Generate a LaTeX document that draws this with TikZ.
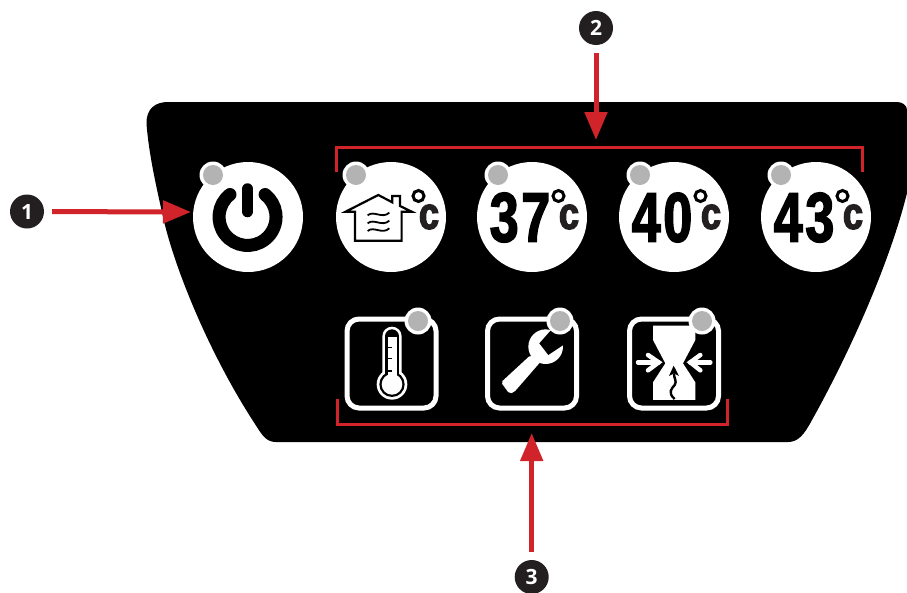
\documentclass[tikz,border=0pt]{standalone}
\usepackage{fontspec}
\usetikzlibrary{arrows.meta}
\setmainfont{Open Sans}
\newfontfamily\digitfont[FakeStretch=0.74,FakeBold=2.2,LetterSpace=4]{Liberation Sans Bold}
\newfontfamily\unitfont[FakeStretch=0.8,FakeBold=3]{Liberation Sans Bold}
\definecolor{markred}{HTML}{D1232A}
\definecolor{ledgrey}{HTML}{B3B3B3}
\definecolor{badgeink}{HTML}{231F20}
\tikzset{
  bracketline/.style={draw=markred,line width=3pt,line cap=butt,line join=miter},
  callout/.style={draw=markred,line width=5pt,shorten <=8pt,-{Triangle[length=28pt,width=22pt]}},
  badge/.style={circle,fill=badgeink,text=white,minimum size=34pt,inner sep=0pt,font=\fontsize{21}{21}\selectfont\bfseries},
  tempbutton/.style={circle,fill=white,minimum size=110pt,inner sep=0pt,outer sep=0pt},
  iconbox/.style={draw=white,line width=5pt,rounded corners=12pt,minimum size=89pt,inner sep=0pt,outer sep=0pt},
  ledring/.style={circle,fill=white,minimum size=27pt,inner sep=0pt},
  leddot/.style={circle,fill=ledgrey,minimum size=20pt,inner sep=0pt},
  digitstext/.style={inner sep=0pt,font=\digitfont\fontsize{70}{70}\selectfont,text=black},
  unittext/.style={inner sep=0pt,font=\unitfont\fontsize{45}{45}\selectfont,text=badgeink},
}
\newcommand{\ledat}[3]{\node[ledring] (#1ring) at (#2,#3) {};\node[leddot] (#1dot) at (#2,#3) {};}
\newcommand{\degreeunit}[3]{%
  \node[unittext] (#1c) at (#2+37,#3) {c};
  \draw[black,line width=3pt] (#2+26.5,#3-21) circle[radius=5.5];}
\newcommand{\tempbtn}[3]{%
  \node[tempbutton] (#1) at (#2,217) {};
  \node[digitstext] (#1num) at (#2-12,217.5) {#3};
  \degreeunit{#1}{#2}{217}}
\begin{document}
\begin{tikzpicture}[x=1pt,y=-1pt]
\useasboundingbox (0,0) rectangle (907,592);
% panel
\fill[black] (146.5,124) .. controls (146,108) and (156,102) .. (168,102)
  -- (897,102) .. controls (902,102) and (907,105) .. (907,110)
  -- (907,193)
  .. controls (890,262) and (850,352) .. (812,420)
  .. controls (804,435) and (798,442) .. (788,442)
  -- (276,442) .. controls (266,442) and (262,435) .. (255,424)
  .. controls (210,355) and (175,270) .. (163,217)
  .. controls (156,185) and (149,155) .. (146.5,124) -- cycle;
% brackets
\draw[bracketline] (336.5,172) -- (336.5,147) -- (862,147) -- (862,172);
\draw[bracketline] (337,399) -- (337,424) -- (727,424) -- (727,399);
% round buttons
\node[tempbutton] (power) at (248,217) {};
\draw[black,line width=13pt,line cap=round] (247.5,217) ++(-17.5,-22.5) arc[start angle=232,delta angle=-284,radius=28.5];
\draw[black,line width=11.5pt,line cap=round] (247.5,189) -- (247.5,211.5);
\ledat{ledpower}{213}{175}
\node[tempbutton] (ambient) at (391,217) {};
\begin{scope}[shift={(180,140)},x=0.3333pt,y=-0.3333pt]
  \draw[black,line width=2.2pt,line join=miter] (497,215) -- (595,165) -- (637,187) -- (637,168) -- (660,168) -- (660,198) -- (695,215) -- (665,215) -- (665,302) -- (525,302) -- (525,215) -- cycle;
  \foreach \wy in {226,250,273}
    \draw[black,line width=1.8pt] (563,\wy) .. controls (582,\wy-16) and (606,\wy+12) .. (628,\wy-8);
\end{scope}
\degreeunit{ambient}{392}{217}
\ledat{ledambient}{356}{175}
\tempbtn{tA}{532}{37}
\ledat{ledA}{498}{175}
\tempbtn{tB}{674}{40}
\ledat{ledB}{640}{175}
\tempbtn{tC}{816}{43}
\ledat{ledC}{781}{175}
% square icons
\node[iconbox] (thermo) at (391.5,363.5) {};
\node[iconbox] (wrench) at (532,363.5) {};
\node[iconbox] (press) at (674,363.5) {};
% thermometer
\begin{scope}[shift={(340,305)},x=0.3333pt,y=-0.3333pt]
  \fill[white] (127,240) -- (127,94) arc[start angle=180,delta angle=180,radius=29] -- (185,240) -- cycle;
  \fill[white] (156,238) circle[radius=46];
  \fill[black] (135,240) -- (135,94) arc[start angle=180,delta angle=180,radius=21] -- (177,240) -- cycle;
  \fill[black] (156,238) circle[radius=38];
  \fill[white] (143,240) -- (143,96) -- (170,96) -- (170,240) -- cycle;
  \fill[white] (156,238) circle[radius=31];
  \draw[black,line width=1.3pt] (143,127) -- (155,127) (143,160) -- (155,160) (143,198) -- (155,198);
\end{scope}
% wrench
\begin{scope}[shift={(480,305)},x=0.3333pt,y=-0.3333pt]
  \fill[white] (197,125) circle[radius=52];
  \fill[white,rounded corners=2pt] (63,232) -- (152,150) -- (182,170) -- (102,262) -- (88,266) -- cycle;
  \fill[black] (216,72) -- (178,115) -- (205,150) -- (256,116) -- (275,60) -- cycle;
\end{scope}
% pressure icon
\begin{scope}[shift={(622,305)},x=0.3333pt,y=-0.3333pt]
  \fill[white] (93,62) -- (220,62) -- (220,105) -- (183,175) -- (220,232) -- (220,285) -- (93,285) -- (93,232) -- (130,175) -- (93,105) -- cycle;
  \draw[white,line width=4.5pt,line cap=round] (48,172) -- (110,172) (265,172) -- (205,172);
  \draw[white,line width=4.5pt,line cap=round,line join=miter] (78,150) -- (110,172) -- (78,196) (235,150) -- (205,172) -- (235,196);
  \draw[black,line width=2.4pt] (158,282) .. controls (135,262) and (150,250) .. (158,240) .. controls (166,228) and (155,220) .. (156,205);
  \fill[black] (155,182) -- (171,213) -- (156,205) -- (141,213) -- cycle;
\end{scope}
\ledat{ledthermo}{418}{321}
\ledat{ledwrench}{560}{321}
\ledat{ledpress}{702}{321}
% callouts
\node[badge] (n1) at (27,211.5) {1};
\node[badge] (n2) at (596,28) {2};
\node[badge] (n3) at (531.7,577) {3};
\coordinate (t1) at (191,212);
\coordinate (t2) at (596,140);
\coordinate (t3) at (531.7,433);
\draw[callout] (n1) -- (t1);
\draw[callout] (n2) -- (t2);
\draw[callout] (n3) -- (t3);
\end{tikzpicture}
\end{document}
